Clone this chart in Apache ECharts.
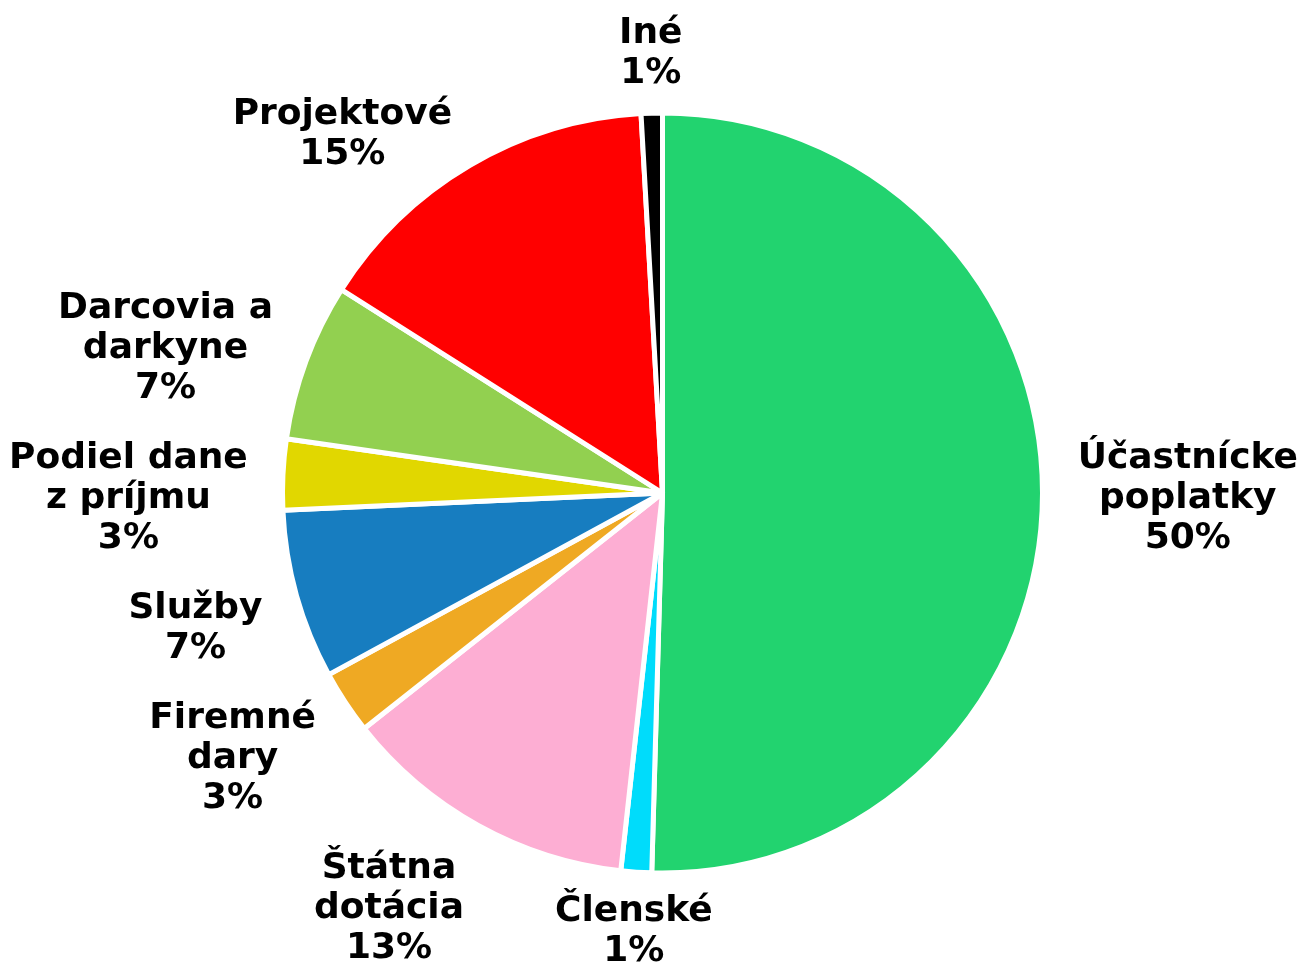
<!DOCTYPE html>
<html><head><meta charset="utf-8">
<script src="https://cdn.jsdelivr.net/npm/echarts@6/dist/echarts.min.js"></script>
<style>html,body{margin:0;padding:0;background:#fff}#c{width:1300px;height:964px}</style>
</head><body><div id="c"></div>
<script>
// ---- data ----
const categories = ['Účastnícke poplatky','Členské','Štátna dotácia','Firemné dary','Služby','Podiel dane z príjmu','Darcovia a darkyne','Projektové','Iné'];
const labelLines = [['Účastnícke','poplatky'],['Členské'],['Štátna','dotácia'],['Firemné','dary'],['Služby'],['Podiel dane','z príjmu'],['Darcovia a','darkyne'],['Projektové'],['Iné']];
const values = [50.4, 1.3, 12.6, 2.7, 7.2, 3.0, 6.7, 15.1, 0.9];
const colors = ['#22d36f','#00dcfb','#fdaed3','#efa923','#177dc0','#e1d700','#92d050','#ff0000','#000000'];

// ---- layout / style ----
const CX = 662.5, CY = 493, R_PIE = 380, BORDER = 5;
const VIS_R = R_PIE - BORDER / 2;
const LABEL_R = VIS_R * 1.1, GAP = 30, LINE_H = 40;
const FONT_FAMILY = 'DejaVu Sans', FONT_SIZE = 36;

const ctx = document.createElement('canvas').getContext('2d');
ctx.font = 'bold ' + FONT_SIZE + 'px "' + FONT_FAMILY + '"';
const total = values.reduce((a, b) => a + b, 0);
const pctText = v => Math.round(v / total * 100) + '%';
let cum = 0;
const boxes = values.map((v, i) => {
  const mid = (cum + v / 2) / total * 2 * Math.PI; cum += v;
  const dx = Math.sin(mid), dy = -Math.cos(mid);
  const lines = labelLines[i].concat([pctText(v)]);
  const w = Math.max(...lines.map(s => ctx.measureText(s).width));
  const h = lines.length * LINE_H;
  const ax = CX + LABEL_R * dx, ay = CY + LABEL_R * dy;
  // horizontal: edge-anchored on the sides, centred near top/bottom
  const ox = Math.sign(dx) * Math.max(0, Math.min(1, (Math.abs(dx) - 0.1) * 2.5));
  const oy = (1 - Math.abs(ox)) * dy * (h / 2 - LINE_H * 0.4);
  return { i, w, h, side: dx < 0 ? -1 : 1, x: ax + ox * w / 2, y: ay + oy };
});
// push overlapping labels downward, side by side
[-1, 1].forEach(side => {
  const list = boxes.filter(b => b.side === side).sort((a, b) => a.y - b.y);
  for (let k = 1; k < list.length; k++) {
    const b = list[k];
    for (let j = 0; j < k; j++) {
      const a = list[j];
      if (Math.abs(a.x - b.x) >= (a.w + b.w) / 2) continue;
      const minY = a.y + a.h / 2 + GAP + b.h / 2;
      if (b.y < minY) b.y = minY;
    }
  }
});

const chart = echarts.init(document.getElementById('c'), null, { renderer: 'canvas' });
chart.setOption({
  animation: false,
  backgroundColor: '#ffffff',
  series: [{
    type: 'pie',
    center: [CX, CY],
    radius: R_PIE,
    startAngle: 90,
    clockwise: true,
    silent: true,
    avoidLabelOverlap: false,
    data: categories.map((n, i) => ({ name: n, value: values[i], itemStyle: { color: colors[i] } })),
    itemStyle: { borderColor: '#ffffff', borderWidth: BORDER },
    label: {
      show: true, position: 'outside',
      formatter: p => labelLines[p.dataIndex].concat([pctText(values[p.dataIndex])]).join('\n'),
      fontFamily: FONT_FAMILY, fontWeight: 'bold', fontSize: FONT_SIZE, lineHeight: LINE_H, color: '#000'
    },
    labelLine: { show: false },
    labelLayout: p => {
      const b = boxes[p.dataIndex];
      return { x: b.x, y: b.y, align: 'center', verticalAlign: 'middle' };
    },
    emphasis: { disabled: true }
  }]
});
</script></body></html>
